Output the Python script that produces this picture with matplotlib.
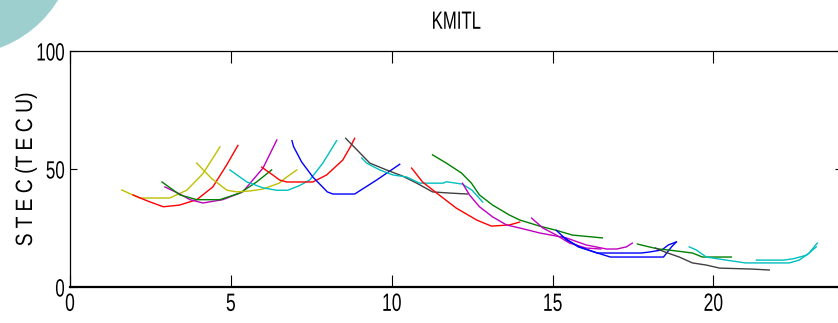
import matplotlib
matplotlib.use("Agg")
import matplotlib.pyplot as plt
from matplotlib.patches import Ellipse
from matplotlib.patheffects import AbstractPathEffect
from matplotlib.transforms import Affine2D

# ---- slant TEC passes over KMITL (hour of day vs STEC in TECU) ----
yel1_t = [1.61, 2.17, 2.6, 3.1, 3.63, 4.13, 4.66]
yel1_v = [41.1, 37.7, 37.7, 37.7, 41.0, 48.0, 59.3]
yel2_t = [3.94, 4.4, 4.88, 5.19, 5.6, 6.0, 6.5, 6.74, 7.05]
yel2_v = [52.5, 46.0, 41.0, 40.3, 40.7, 41.5, 44.0, 46.6, 49.6]
red1_t = [1.96, 2.4, 2.9, 3.4, 3.94, 4.44, 4.87, 5.22]
red1_v = [39.0, 36.5, 34.0, 34.7, 37.0, 42.4, 51.7, 60.0]
mag1_t = [2.95, 3.4, 3.73, 4.13, 4.75, 5.37, 6.0, 6.43]
mag1_v = [42.4, 39.5, 37.0, 35.6, 37.0, 40.3, 50.4, 62.3]
grn1_t = [2.86, 3.42, 3.94, 4.66, 5.28, 5.8, 6.27]
grn1_v = [44.5, 39.0, 37.0, 37.0, 39.8, 44.5, 49.6]
cyn1_t = [4.97, 5.5, 6.0, 6.43, 6.77, 7.14, 7.45, 7.86, 8.29]
cyn1_v = [49.6, 44.5, 42.0, 41.0, 41.0, 43.0, 45.3, 52.5, 62.0]
red2_t = [5.96, 6.3, 6.52, 6.74, 7.55, 7.98, 8.48, 8.7, 8.85]
red2_v = [50.8, 47.5, 45.3, 44.5, 44.5, 47.5, 53.8, 59.0, 63.0]
blu1_t = [6.9, 6.95, 7.2, 7.55, 8.0, 8.17, 8.85, 9.53, 10.25]
blu1_v = [62.0, 59.5, 53.0, 46.6, 40.3, 39.4, 39.4, 45.3, 52.0]
blk1_t = [8.57, 9.0, 9.32, 9.84, 10.34, 10.78, 11.27, 11.8, 12.36]
blk1_v = [63.0, 57.0, 52.5, 49.6, 47.0, 44.0, 40.3, 39.8, 39.4]
cyn2_t = [9.07, 9.22, 9.63, 10.03, 10.47, 10.87, 11.6, 11.7, 12.2, 12.5, 12.83]
cyn2_v = [54.7, 52.5, 49.6, 47.5, 46.6, 44.0, 44.0, 44.6, 43.6, 41.0, 36.0]
red3_t = [10.62, 10.96, 11.4, 12.0, 12.64, 13.1, 13.66, 13.98]
red3_v = [50.4, 44.5, 39.8, 33.5, 28.4, 25.8, 26.3, 27.5]
grn2_t = [11.27, 11.7, 12.17, 12.48, 12.73, 13.14, 13.66, 13.98, 14.6, 15.12, 15.62, 16.55]
grn2_v = [56.0, 52.5, 48.3, 44.0, 39.0, 34.7, 30.5, 28.4, 25.8, 24.0, 22.0, 20.8]
mag2_t = [12.2, 12.42, 12.73, 13.14, 13.57, 13.98, 14.6, 15.43, 16.05, 16.68, 17.0, 17.3, 17.48]
mag2_v = [44.0, 39.0, 34.0, 29.7, 26.3, 25.0, 22.9, 20.8, 17.8, 16.1, 16.1, 17.0, 18.6]
mag3_t = [14.35, 14.7, 15.12, 15.53, 16.05, 16.5]
mag3_v = [29.2, 25.0, 22.0, 18.6, 16.5, 16.1]
blu2_t = [15.12, 15.43, 15.84, 16.3, 16.8, 18.45, 18.55, 18.7, 18.85]
blu2_v = [24.0, 20.0, 17.0, 14.8, 12.7, 12.7, 14.4, 17.0, 19.1]
blu3_t = [15.3, 15.8, 16.4, 17.3, 17.76, 18.0, 18.4, 18.6, 18.85]
blu3_v = [21.5, 17.0, 14.4, 14.4, 14.4, 14.8, 15.7, 17.8, 19.1]
grn3_t = [17.64, 18.0, 18.3, 18.6, 19.35, 19.66, 20.56]
grn3_v = [18.2, 17.0, 16.1, 15.7, 14.4, 12.7, 12.7]
blk2_t = [18.2, 18.5, 18.94, 19.35, 19.78, 20.2, 21.2, 21.74]
blk2_v = [16.5, 14.8, 12.7, 10.2, 9.3, 8.0, 7.6, 7.2]
cyn3_t = [19.25, 19.47, 19.78, 20.4, 21.0, 22.36, 22.67, 22.98, 23.23]
cyn3_v = [17.0, 15.7, 12.7, 11.4, 10.2, 10.2, 11.4, 14.4, 18.6]
cyn4_t = [21.34, 22.2, 22.5, 22.9, 23.2]
cyn4_v = [11.4, 11.4, 12.0, 13.5, 17.0]

x_ticks = [0, 5, 10, 15, 20]
y_ticks = [0, 50, 100]
title_text = "KMITL"
ylabel_text = "S T E C (T E C U)"

BLUE = (0, 0, 1)
GREEN = (0, 0.5, 0)
RED = (1, 0, 0)
CYAN = (0, 0.75, 0.75)
MAGENTA = (0.75, 0, 0.75)
YELLOW = (0.75, 0.75, 0)
DARK = (0.25, 0.25, 0.25)

series = [
    (yel1_t, yel1_v, YELLOW), (red1_t, red1_v, RED), (mag1_t, mag1_v, MAGENTA),
    (grn1_t, grn1_v, GREEN), (yel2_t, yel2_v, YELLOW), (cyn1_t, cyn1_v, CYAN),
    (red2_t, red2_v, RED), (blu1_t, blu1_v, BLUE), (blk1_t, blk1_v, DARK),
    (cyn2_t, cyn2_v, CYAN), (red3_t, red3_v, RED), (grn2_t, grn2_v, GREEN),
    (mag2_t, mag2_v, MAGENTA), (mag3_t, mag3_v, MAGENTA), (blu2_t, blu2_v, BLUE),
    (blu3_t, blu3_v, BLUE), (grn3_t, grn3_v, GREEN), (blk2_t, blk2_v, DARK),
    (cyn3_t, cyn3_v, CYAN), (cyn4_t, cyn4_v, CYAN),
]


class Condense(AbstractPathEffect):
    """Draw text glyphs narrowed along one direction (a condensed face)."""

    def __init__(self, sx=1.0, sy=1.0, anchor="center"):
        super().__init__()
        self.sx, self.sy, self.anchor = sx, sy, anchor

    def draw_path(self, renderer, gc, tpath, affine, rgbFace=None):
        bb = tpath.get_extents(affine)
        cx = bb.x1 if self.anchor == "right" else 0.5 * (bb.x0 + bb.x1)
        cy = 0.5 * (bb.y0 + bb.y1)
        tr = affine + Affine2D().translate(-cx, -cy).scale(self.sx, self.sy).translate(cx, cy)
        renderer.draw_path(gc, tpath, tr, rgbFace)


plt.rcParams["font.family"] = ["Liberation Sans", "DejaVu Sans"]

W, H = 838, 323
fig = plt.figure(figsize=(W / 100, H / 100), dpi=100)
fig.patch.set_facecolor("white")

# decorative quarter disc in the upper-left corner
r = 115
fig.add_artist(Ellipse((-40 / W, 1 + 60 / H), 2 * r / W, 2 * r / H,
                       transform=fig.transFigure, facecolor="#9ECFCF",
                       edgecolor="none", zorder=0))

ax = fig.add_axes([70 / W, 1 - 287 / H, (842 - 70) / W, (287 - 51) / H])
for t, v, c in series:
    ax.plot(t, v, color=c, lw=1.0)

ax.set_xlim(0, 24)
ax.set_ylim(0, 100)
ax.set_xticks(x_ticks)
ax.set_yticks(y_ticks)
ax.tick_params(direction="in", top=True, right=True, colors="black")
ax.tick_params(axis="x", length=8.6, width=0.8, labelsize=18, pad=3.5)
ax.tick_params(axis="y", length=5, width=0.8, labelsize=18, pad=3.5)
for s in ax.spines.values():
    s.set_linewidth(0.9)
ax.spines["bottom"].set_linewidth(1.6)

for lab in ax.get_xticklabels():
    lab.set_path_effects([Condense(sx=0.70)])
for lab in ax.get_yticklabels():
    lab.set_path_effects([Condense(sx=0.68, anchor="right")])

ttl = ax.set_title(title_text, fontsize=18, pad=16)
ttl.set_path_effects([Condense(sx=0.67)])

yl = ax.set_ylabel(ylabel_text, fontsize=17, va="center", ha="center")
ax.yaxis.set_label_coords((26 - 70) / (842 - 70), 0.5)
yl.set_path_effects([Condense(sy=0.82)])

fig.savefig("out.png", dpi=100)
